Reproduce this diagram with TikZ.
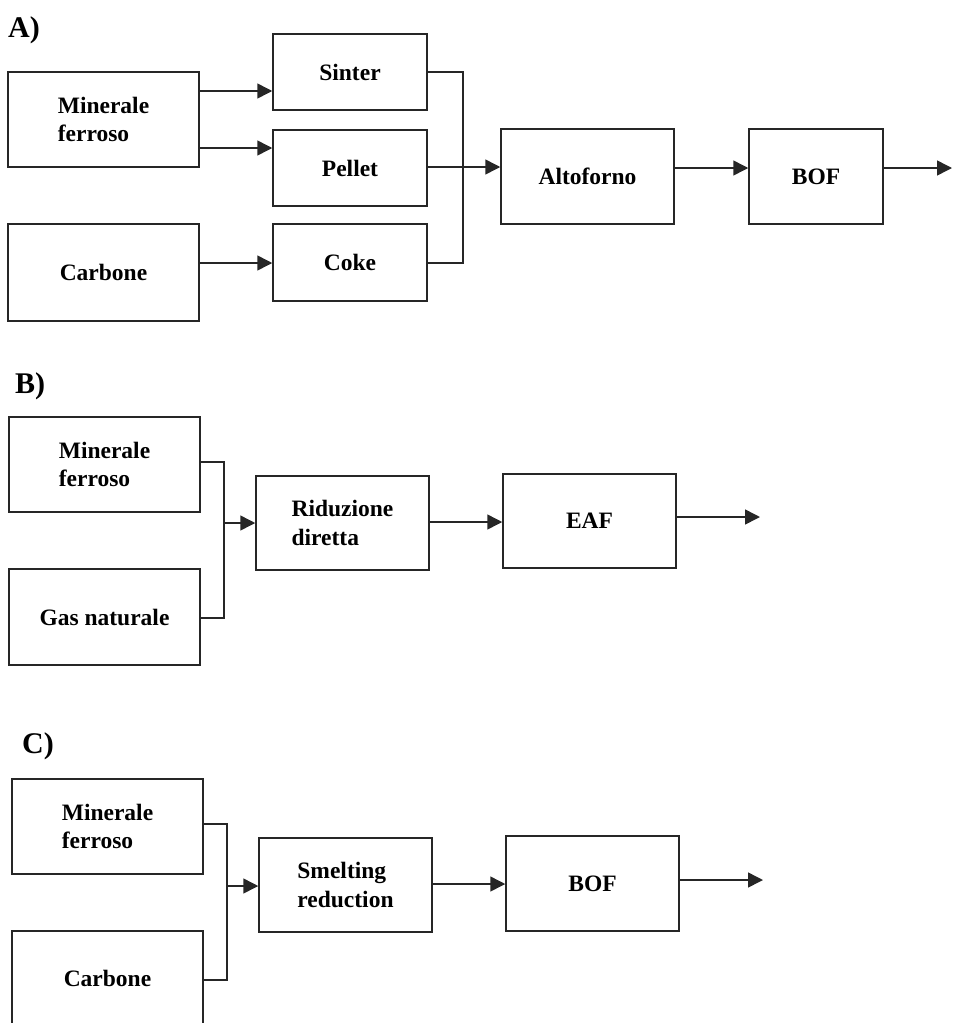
\documentclass[tikz,border=0pt]{standalone}
\usepackage{fontspec}
\setmainfont{Liberation Serif}
\usetikzlibrary{arrows.meta}
\begin{document}
\begin{tikzpicture}[x=1pt,y=-1pt,
  box/.style={draw=black!85, line width=1.5pt, inner sep=0pt, align=left,
    font=\bfseries\fontsize{23.5}{28.5}\selectfont},
  lbl/.style={anchor=base west, inner sep=0pt, font=\bfseries\fontsize{30}{32}\selectfont},
  conn/.style={draw=black!85, line width=1.5pt},
  arr/.style={conn, -{Triangle[length=15pt,width=15pt]}}]
\useasboundingbox (0,0) rectangle (953,1023);
\clip (0,0) rectangle (953,1023);
% ---------- A ----------
\node[lbl] (la) at (8,37) {A)};
\node[box, minimum width=191pt, minimum height=95pt] (amin) at (103.5,119.5) {Minerale\\ferroso};
\node[box, minimum width=191pt, minimum height=97pt] (acarb) at (103.5,272.5) {Carbone};
\node[box, minimum width=154pt, minimum height=76pt] (asint) at (350,72) {Sinter};
\node[box, minimum width=154pt, minimum height=76pt] (apell) at (350,168) {Pellet};
\node[box, minimum width=154pt, minimum height=77pt] (acoke) at (350,262.5) {Coke};
\node[box, minimum width=173pt, minimum height=95pt] (aalto) at (587.5,176.5) {Altoforno};
\node[box, minimum width=134pt, minimum height=95pt] (abof) at (816,176.5) {BOF};
\coordinate (ar1) at (0,91);
\coordinate (ar2) at (0,148);
\coordinate (ar3) at (0,263);
\coordinate (ar4) at (0,167);
\coordinate (ar5) at (0,168);
\coordinate (aj) at (463,72);
\coordinate (aout) at (952,168);
\draw[arr] (amin.east |- ar1) -- (asint.west |- ar1);
\draw[arr] (amin.east |- ar2) -- (apell.west |- ar2);
\draw[arr] (acarb.east |- ar3) -- (acoke.west |- ar3);
\draw[conn] (asint.east) -- (aj) -- (aj |- ar3) -- (acoke.east |- ar3);
\draw[arr] (apell.east |- ar4) -- (aalto.west |- ar4);
\draw[arr] (aalto.east |- ar5) -- (abof.west |- ar5);
\draw[arr] (abof.east |- aout) -- (aout);
% ---------- B ----------
\node[lbl] (lb) at (15,393) {B)};
\node[box, minimum width=191pt, minimum height=95pt] (bmin) at (104.5,464.5) {Minerale\\ferroso};
\node[box, minimum width=191pt, minimum height=96pt] (bgas) at (104.5,617) {Gas naturale};
\node[box, minimum width=173pt, minimum height=94pt] (brid) at (342.5,523) {Riduzione\\diretta};
\node[box, minimum width=173pt, minimum height=94pt] (beaf) at (589.5,521) {EAF};
\coordinate (bj1) at (224,462);
\coordinate (bj2) at (224,618);
\coordinate (bj3) at (224,523);
\coordinate (br2) at (0,522);
\coordinate (bout) at (760,517);
\draw[conn] (bmin.east |- bj1) -- (bj1) -- (bj2) -- (bgas.east |- bj2);
\draw[arr] (bj3) -- (brid.west |- bj3);
\draw[arr] (brid.east |- br2) -- (beaf.west |- br2);
\draw[arr] (beaf.east |- bout) -- (bout);
% ---------- C ----------
\node[lbl] (lc) at (22,753) {C)};
\node[box, minimum width=191pt, minimum height=95pt] (cmin) at (107.5,826.5) {Minerale\\ferroso};
\node[box, minimum width=191pt, minimum height=95pt] (ccarb) at (107.5,978.5) {Carbone};
\node[box, minimum width=173pt, minimum height=94pt] (csme) at (345.5,885) {Smelting\\reduction};
\node[box, minimum width=173pt, minimum height=95pt] (cbof) at (592.5,883.5) {BOF};
\coordinate (cj1) at (227,824);
\coordinate (cj2) at (227,980);
\coordinate (cj3) at (227,886);
\coordinate (cr2) at (0,884);
\coordinate (cout) at (763,880);
\draw[conn] (cmin.east |- cj1) -- (cj1) -- (cj2) -- (ccarb.east |- cj2);
\draw[arr] (cj3) -- (csme.west |- cj3);
\draw[arr] (csme.east |- cr2) -- (cbof.west |- cr2);
\draw[arr] (cbof.east |- cout) -- (cout);
\end{tikzpicture}
\end{document}
